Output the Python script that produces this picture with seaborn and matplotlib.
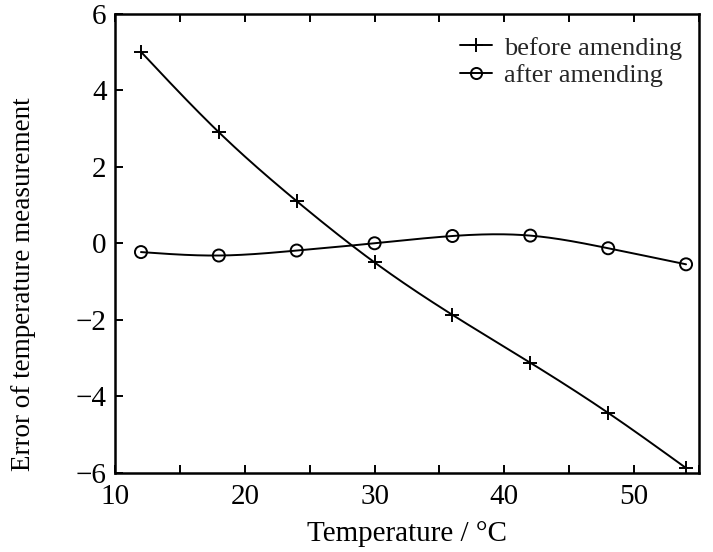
import numpy as np
import pandas as pd
import matplotlib
matplotlib.use("Agg")
import matplotlib.pyplot as plt
import seaborn as sns
from matplotlib.lines import Line2D

temperature = [12, 18, 24, 30, 36, 42, 48, 54]
before_amending = [5.0, 2.9, 1.1, -0.5, -1.87, -3.12, -4.43, -5.87]
after_amending = [-0.23, -0.32, -0.19, 0.0, 0.19, 0.2, -0.13, -0.55]
series_names = ["before amending", "after amending"]
x_ticks = [10, 20, 30, 40, 50]
y_ticks = [-6, -4, -2, 0, 2, 4, 6]


def natural_spline(x, y, n=300):
    x = np.asarray(x, float)
    y = np.asarray(y, float)
    k = len(x)
    h = np.diff(x)
    A = np.zeros((k, k))
    b = np.zeros(k)
    A[0, 0] = A[-1, -1] = 1
    for i in range(1, k - 1):
        A[i, i - 1] = h[i - 1]
        A[i, i] = 2 * (h[i - 1] + h[i])
        A[i, i + 1] = h[i]
        b[i] = 6 * ((y[i + 1] - y[i]) / h[i] - (y[i] - y[i - 1]) / h[i - 1])
    M = np.linalg.solve(A, b)
    xs = np.linspace(x[0], x[-1], n)
    idx = np.clip(np.searchsorted(x, xs) - 1, 0, k - 2)
    x0, x1 = x[idx], x[idx + 1]
    hh = x1 - x0
    ys = (M[idx] * (x1 - xs) ** 3 / (6 * hh) + M[idx + 1] * (xs - x0) ** 3 / (6 * hh)
          + (y[idx] / hh - M[idx] * hh / 6) * (x1 - xs)
          + (y[idx + 1] / hh - M[idx + 1] * hh / 6) * (xs - x0))
    return xs, ys


sns.set_theme(style="ticks")
plt.rcParams["font.family"] = ["Liberation Serif", "DejaVu Serif"]

fig = plt.figure(figsize=(7.13, 5.52), dpi=100)
ax = fig.add_axes([0.1613, 0.1431, 0.8191, 0.8324])

curves = []
for name, vals in zip(series_names, [before_amending, after_amending]):
    xs, ys = natural_spline(temperature, vals)
    curves.append(pd.DataFrame({"Temperature": xs, "Error": ys, "series": name}))
curves = pd.concat(curves, ignore_index=True)

sns.lineplot(data=curves, x="Temperature", y="Error", units="series", estimator=None,
             color="black", linewidth=1.4, ax=ax, legend=False, sort=False)

df_before = pd.DataFrame({"Temperature": temperature, "Error": before_amending})
df_after = pd.DataFrame({"Temperature": temperature, "Error": after_amending})
sns.scatterplot(data=df_before, x="Temperature", y="Error", marker="+", s=110,
                color="black", linewidth=1.4, ax=ax, legend=False)
sns.scatterplot(data=df_after, x="Temperature", y="Error", marker="o", s=75,
                facecolor="none", edgecolor="black", linewidth=1.4, ax=ax, legend=False)

handles = [Line2D([], [], color="black", marker="+", markersize=10, linewidth=1.4,
                  markeredgewidth=1.4),
           Line2D([], [], color="black", marker="o", markersize=8, linewidth=1.4,
                  markerfacecolor="none", markeredgewidth=1.4)]
ax.legend(handles, series_names, loc="upper right", frameon=False, fontsize=19,
          handlelength=1.2, handletextpad=0.45, labelspacing=0.15,
          borderaxespad=0.2, bbox_to_anchor=(0.998, 0.985))

ax.set_xlim(10, 55)
ax.set_ylim(-6, 6)
ax.set_xticks(x_ticks)
ax.set_xticks([15, 25, 35, 45, 55], minor=True)
ax.set_yticks(y_ticks)
ax.tick_params(axis="both", which="both", direction="in", top=True, right=False,
               labelsize=21, width=1.4, color="black", labelcolor="black")
ax.tick_params(which="major", length=6)
ax.tick_params(axis="x", which="major", pad=8)
ax.tick_params(axis="y", which="major", pad=6)
ax.tick_params(which="minor", length=6)
for sp in ax.spines.values():
    sp.set_visible(True)
    sp.set_linewidth(1.8)
    sp.set_color("black")

ax.set_xlabel("Temperature / °C", fontsize=21, color="black", labelpad=8)
ax.set_ylabel("Error of temperature measurement", fontsize=19.5, color="black")
ax.yaxis.set_label_coords(-0.135, 0.41)

fig.savefig("out.png", dpi=100)
